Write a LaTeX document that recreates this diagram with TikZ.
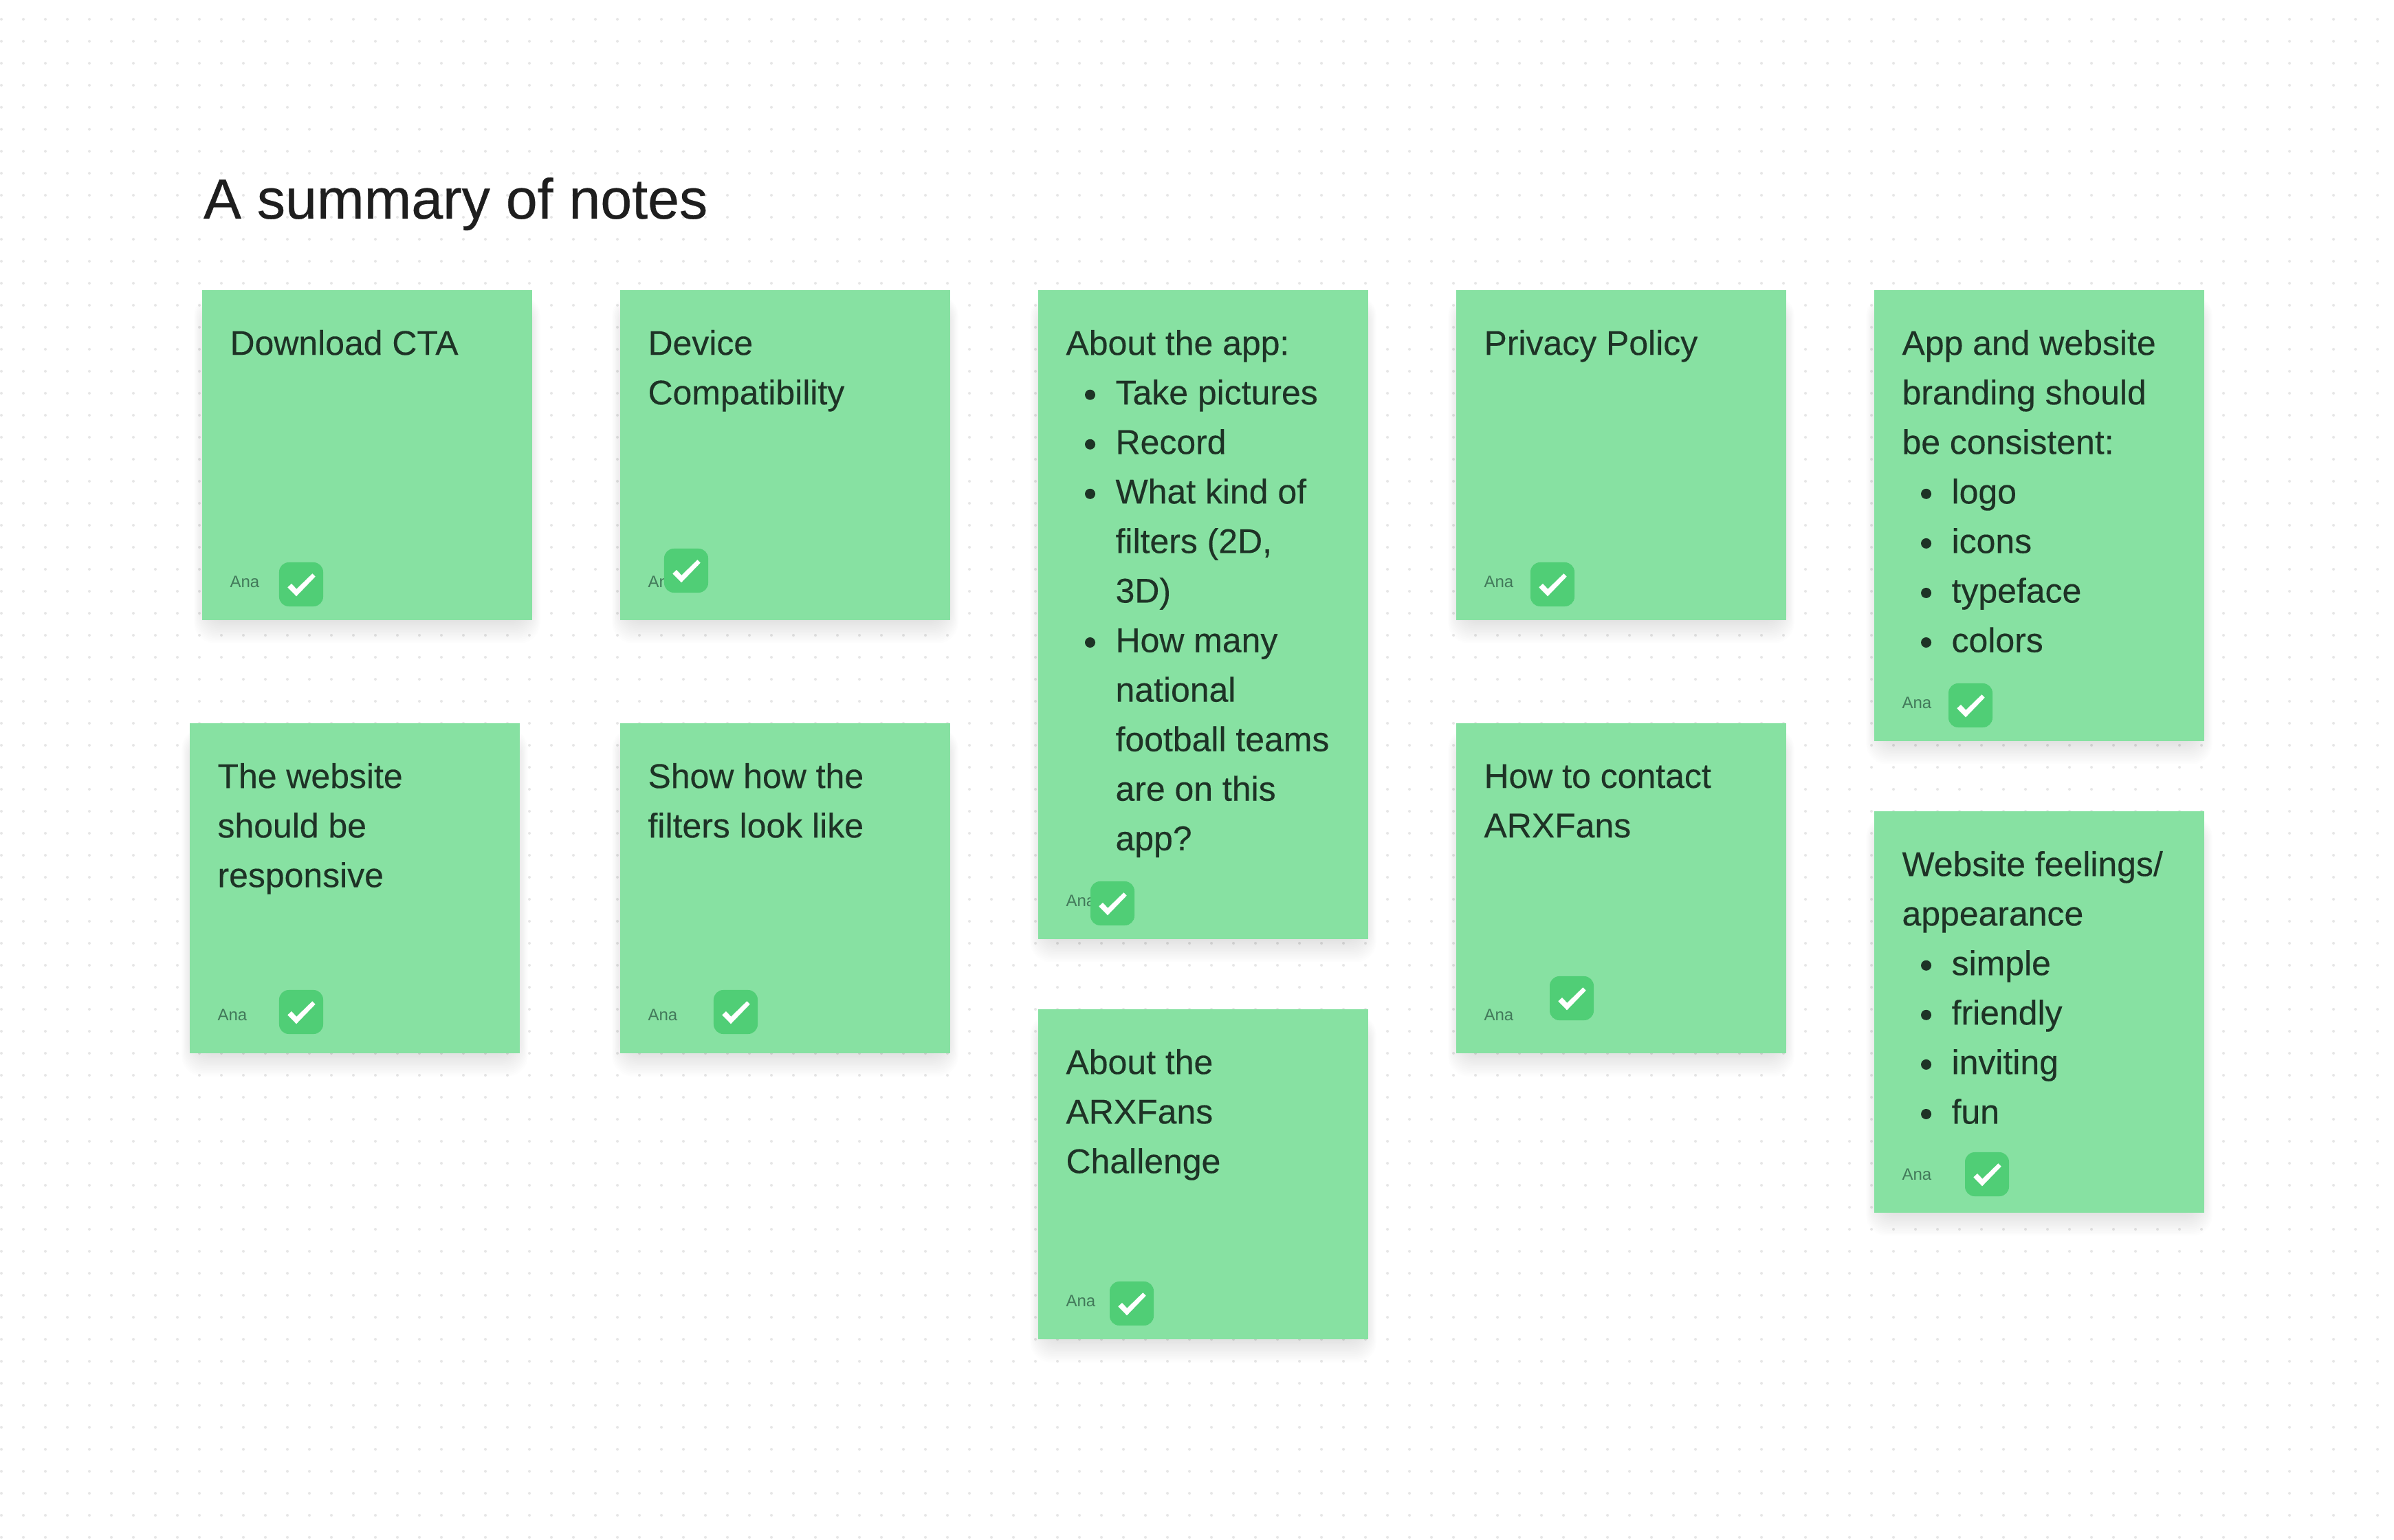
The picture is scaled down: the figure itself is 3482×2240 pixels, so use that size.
\documentclass[tikz,border=0pt]{standalone}
\usepackage{fontspec}
\setmainfont{Liberation Sans}
\newfontfamily\notefont[FakeBold=0.25]{Liberation Sans}
\newfontfamily\headfont[FakeBold=0.35]{Liberation Sans}
\definecolor{cardc}{HTML}{87E1A2}
\definecolor{chipc}{HTML}{50CE76}
\definecolor{inkc}{HTML}{1E3326}
\definecolor{anac}{HTML}{42795A}
\definecolor{titlec}{HTML}{1E1E1E}
\definecolor{dotc}{HTML}{E6E6E6}
\tikzset{
  x=0.01cm,y=-0.01cm,
  notecard/.style={fill=cardc,draw=none,inner sep=0pt,outer sep=0pt,minimum width=4.8cm,anchor=north west},
  notetext/.style={anchor=north west,inner sep=0pt,outer sep=0pt,align=left,text=inkc,font=\notefont\fontsize{14.2}{20.49}\selectfont},
  anatext/.style={anchor=base west,inner sep=0pt,outer sep=0pt,text=anac,font=\fontsize{6.83}{8}\selectfont},
  chipbox/.style={fill=chipc,draw=none,rounded corners=0.14cm,minimum size=0.64cm,inner sep=0pt,outer sep=0pt},
  titletext/.style={anchor=base west,inner sep=0pt,outer sep=0pt,text=titlec,font=\headfont\fontsize{23.45}{28}\selectfont}
}
\newcommand{\fs}{\rule{0pt}{0.36cm}}
\newcommand{\bu}{\makebox[0.72cm][l]{\hspace{0.275cm}\raisebox{0.065cm}{\tikz\fill[inkc] (0,0) circle (0.075cm);}}}
\newcommand{\ind}{\hspace*{0.72cm}}
% id, x, y, h, chip cx, chip cy, text
\newcommand{\note}[7]{%
  \foreach \k in {1,...,14}{
    \fill[black,opacity=0.008,rounded corners=0.3cm]
      ({#2-1.2*\k+5},{#3+24-1.2*\k}) rectangle ({#2+480+1.2*\k-5},{#3+#4+2.4*\k});
  }
  \node[notecard,minimum height=#4*0.01cm] (#1card) at (#2,#3) {};
  \node[notetext] (#1text) at ({#2+40.5},{#3+58}) {\fs #7};
  \node[anatext] (#1ana) at ({#2+40.5},{#3+#4-47.5}) {Ana};
  \node[chipbox] (#1chip) at (#5,#6) {};
  \fill[white] ({#5-19.7},{#6+4.3}) -- ({#5-14},{#6-1}) -- ({#5-6.7},{#6+6.7}) -- ({#5+16.3},{#6-15.7}) -- ({#5+20.7},{#6-11.3}) -- ({#5-7},{#6+17.3}) -- cycle;
}
\begin{document}
\begin{tikzpicture}
\useasboundingbox (0,0) rectangle (3482,2240);
\fill[white] (0,0) rectangle (3482,2240);
\foreach \i in {0,...,108}{
  \fill[dotc] \foreach \j in {0,...,69}{ ({2+32*\i},{28+32*\j}) circle (2) };
}
\node[titletext] (title) at (296,318) {A summary of notes};

\note{a}{294}{422}{480}{438}{850}{Download CTA}
\note{b}{902}{422}{480}{998}{830}{Device\\Compatibility}
\note{c}{1510}{422}{944}{1618}{1314}{About the app:\\
\bu Take pictures\\
\bu Record\\
\bu What kind of\\
\ind filters (2D,\\
\ind 3D)\\
\bu How many\\
\ind national\\
\ind football teams\\
\ind are on this\\
\ind app?}
\note{d}{2118}{422}{480}{2258}{850}{Privacy Policy}
\note{e}{2726}{422}{656}{2866}{1026}{App and website\\
branding should\\
be consistent:\\
\bu logo\\
\bu icons\\
\bu typeface\\
\bu colors}
\note{f}{276}{1052}{480}{438}{1472}{The website\\should be\\responsive}
\note{g}{902}{1052}{480}{1070}{1472}{Show how the\\filters look like}
\note{h}{2118}{1052}{480}{2286}{1452}{How to contact\\ARXFans}
\note{i}{1510}{1468}{480}{1646}{1896}{About the\\ARXFans\\Challenge}
\note{j}{2726}{1180}{584}{2890}{1708}{Website feelings/\\
appearance\\
\bu simple\\
\bu friendly\\
\bu inviting\\
\bu fun}
\end{tikzpicture}
\end{document}
